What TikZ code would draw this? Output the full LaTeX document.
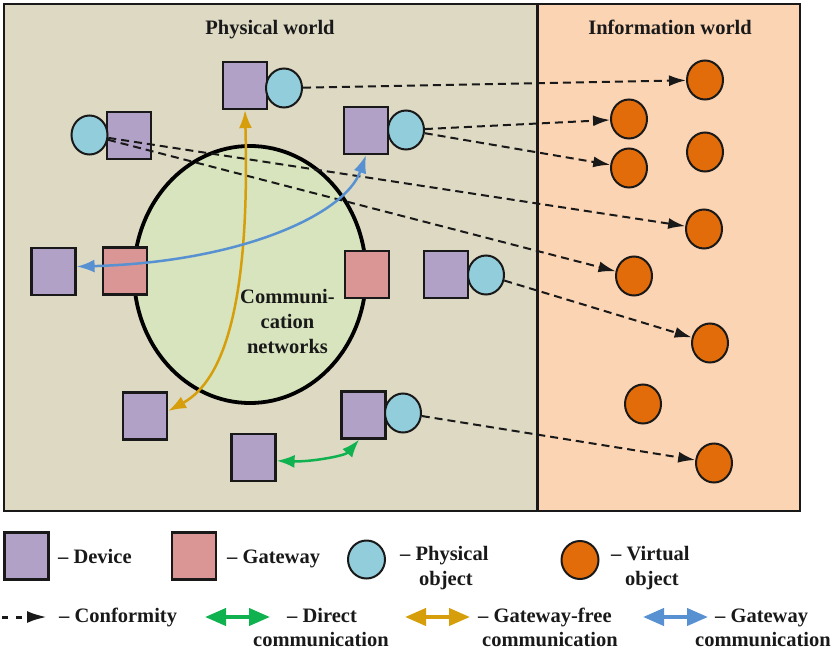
\documentclass[tikz,border=0pt]{standalone}
\usepackage{fontspec}
\setmainfont{Liberation Serif}
\usetikzlibrary{arrows.meta,shapes.geometric}
\definecolor{physbg}{RGB}{221,217,195}
\definecolor{infobg}{RGB}{251,212,180}
\definecolor{devc}{RGB}{178,161,199}
\definecolor{gwc}{RGB}{217,150,148}
\definecolor{poc}{RGB}{146,205,220}
\definecolor{voc}{RGB}{227,108,10}
\definecolor{netc}{RGB}{215,228,189}
\definecolor{goldc}{RGB}{214,158,10}
\definecolor{bluec}{RGB}{88,145,210}
\definecolor{greenc}{RGB}{16,178,80}
\definecolor{edge}{RGB}{25,25,25}
\begin{document}
\begin{tikzpicture}[x=1pt,y=-1pt,
  txt/.style={font=\bfseries\fontsize{20.5}{25}\selectfont, inner sep=0pt, text=edge},
  dev/.style={draw=edge, line width=2.2pt, fill=devc, minimum width=44pt, minimum height=47pt, inner sep=0pt},
  gw/.style={dev, fill=gwc},
  phys/.style={ellipse, draw=edge, line width=2pt, fill=poc, minimum width=36pt, minimum height=39pt, inner sep=0pt},
  virt/.style={phys, fill=voc},
  conf/.style={draw=edge, line width=2pt, dash pattern=on 8pt off 5pt, -{Latex[length=17pt,width=11pt]}},
  comm/.style={line width=2.5pt, {Latex[length=18pt,width=13pt]}-{Latex[length=18pt,width=13pt]}},
  legarrow/.style={line width=4pt, {Triangle[length=21pt,width=17pt]}-{Triangle[length=21pt,width=17pt]}}
]
\useasboundingbox (0,0) rectangle (837,650);
% frames
\fill[physbg] (4,4) rectangle (537,511);
\fill[infobg] (537,4) rectangle (800,511);
\draw[edge, line width=2.5pt] (4,4) rectangle (800,511);
\draw[edge, line width=3pt] (537,4) -- (537,511);
\node[txt, anchor=base] (tphys) at (270,35) {Physical world};
\node[txt, anchor=base] (tinfo) at (670,35) {Information world};
% network
\node[ellipse, draw=black, line width=3.8pt, fill=netc, minimum width=232pt, minimum height=257pt, inner sep=0pt] (net) at (250,274.5) {};
\node[txt, align=center] (nettxt) at (287.5,321) {Communi-\\cation\\networks};
% devices and gateways
\node[dev] (D1) at (245,85.5) {};
\node[phys] (P1) at (284,88) {};
\node[dev] (D2) at (129,135.5) {};
\node[phys] (P2) at (89.5,135) {};
\node[dev] (D3) at (366,130.5) {};
\node[phys] (P3) at (406,130) {};
\node[dev] (D4) at (53.5,271.5) {};
\node[gw] (G1) at (125,271) {};
\node[gw] (G2) at (367,274.5) {};
\node[dev] (D5) at (446,274.5) {};
\node[phys] (P4) at (486,275) {};
\node[dev] (D6) at (145,416) {};
\node[dev] (D7) at (253.5,457.5) {};
\node[dev] (D8) at (363.5,415) {};
\node[phys] (P5) at (403,413) {};
% virtual objects
\node[virt] (V1) at (705,80) {};
\node[virt] (V2) at (629,119) {};
\node[virt] (V3) at (629,168) {};
\node[virt] (V4) at (705,152) {};
\node[virt] (V5) at (704,229) {};
\node[virt] (V6) at (634,276) {};
\node[virt] (V7) at (710,343) {};
\node[virt] (V8) at (643,404) {};
\node[virt] (V9) at (714,463) {};
% conformity
\draw[conf] (P1) -- (V1);
\draw[conf] (P3) -- (V2);
\draw[conf] (P3) -- (V3);
\draw[conf] (P2) -- (V5);
\draw[conf] (P2) -- (V6);
\draw[conf] (P4) -- (V7);
\draw[conf] (P5) -- (V9);
% communications
\draw[comm, draw=goldc] (D1.south) .. controls (250,300) and (225,380) .. (D6.12);
\draw[comm, draw=bluec] (D3.south) .. controls (345,215) and (240,262) .. (D4.12);
\draw[comm, draw=greenc] (D7.-8) .. controls (310,462) and (345,456) .. (D8.-100);
% legend row 1
\node[dev] (LD) at (26.5,556) {};
\node[txt, anchor=base west] (LDt) at (58,563) {-- Device};
\node[gw] (LG) at (194,556) {};
\node[txt, anchor=base west] (LGt) at (227,563) {-- Gateway};
\node[phys, minimum width=37pt, minimum height=38pt] (LP) at (366.5,559.5) {};
\node[txt, anchor=base west] (LPt) at (400,560) {-- Physical};
\node[txt, anchor=base west] (LPt2) at (419,585) {object};
\node[virt, minimum width=37pt, minimum height=38pt] (LV) at (580,560) {};
\node[txt, anchor=base west] (LVt) at (611,560) {-- Virtual};
\node[txt, anchor=base west] (LVt2) at (625,585) {object};
% legend row 2
\coordinate (lc1) at (2,617);
\coordinate (lc2) at (47,617);
\draw[edge, line width=3pt, dash pattern=on 6pt off 8pt, -{Latex[length=20pt,width=12pt]}] (lc1) -- (lc2);
\node[txt, anchor=base west] (LCt) at (59,622) {-- Conformity};
\coordinate (lg1) at (205,617);
\coordinate (lg2) at (270,617);
\draw[legarrow, draw=greenc] (lg1) -- (lg2);
\node[txt, anchor=base west] (LGr) at (287,622) {-- Direct};
\node[txt, anchor=base west] (LGr2) at (253,646) {communication};
\coordinate (ly1) at (405,617);
\coordinate (ly2) at (470,617);
\draw[legarrow, draw=goldc] (ly1) -- (ly2);
\node[txt, anchor=base west] (LYt) at (478,622) {-- Gateway-free};
\node[txt, anchor=base west] (LYt2) at (482,646) {communication};
\coordinate (lb1) at (643,617);
\coordinate (lb2) at (708,617);
\draw[legarrow, draw=bluec] (lb1) -- (lb2);
\node[txt, anchor=base west] (LBt) at (715,622) {-- Gateway};
\node[txt, anchor=base west] (LBt2) at (695,646) {communication};
\end{tikzpicture}
\end{document}
